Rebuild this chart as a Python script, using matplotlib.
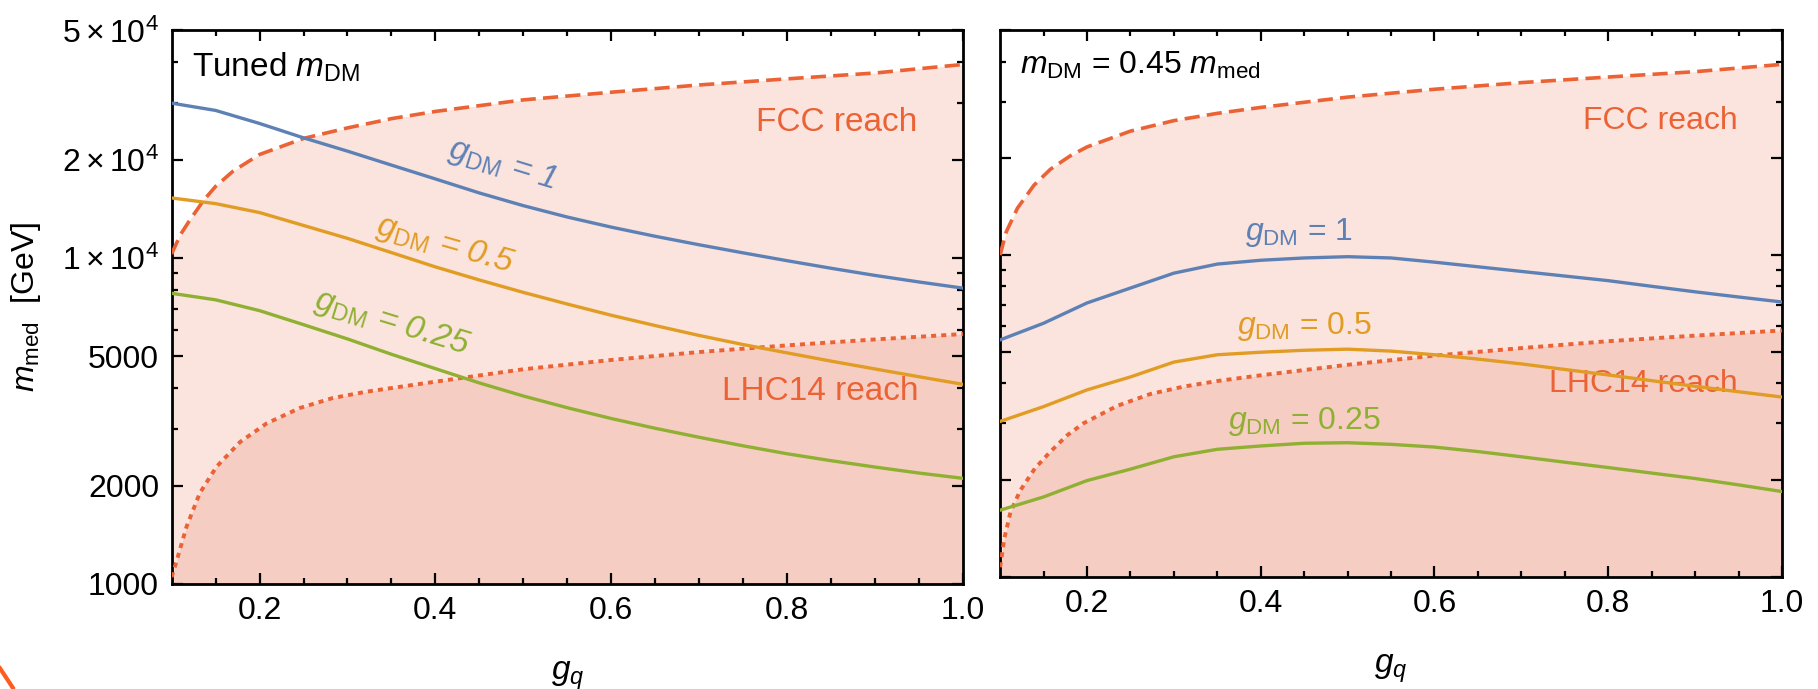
import matplotlib
matplotlib.use("Agg")
import matplotlib.pyplot as plt
from matplotlib.lines import Line2D
from matplotlib.ticker import FixedLocator, NullFormatter

plt.rcParams["font.family"] = ["Liberation Sans", "DejaVu Sans"]
plt.rcParams["mathtext.fontset"] = "custom"
plt.rcParams["mathtext.rm"] = "Liberation Sans"
plt.rcParams["mathtext.it"] = "Liberation Sans:italic"
plt.rcParams["mathtext.bf"] = "Liberation Sans:bold"

# ---- data ----
# left panel: tuned m_DM
g_left = [0.1, 0.15, 0.2, 0.25, 0.3, 0.35, 0.4, 0.45, 0.5, 0.55, 0.6, 0.65, 0.7,
          0.75, 0.8, 0.85, 0.9, 0.95, 1.0]
blue_left = [29900, 28400, 25900, 23400, 21300, 19300, 17500, 15850, 14490, 13370, 12450, 11670, 10990,
             10380, 9820, 9310, 8850, 8450, 8090]
orange_left = [15300, 14700, 13800, 12600, 11500, 10400, 9400, 8570, 7850, 7230, 6680, 6210, 5790,
               5430, 5120, 4830, 4570, 4325, 4100]
green_left = [7800, 7450, 6900, 6250, 5650, 5070, 4580, 4140, 3775, 3475, 3220, 3005, 2820,
              2655, 2510, 2390, 2285, 2190, 2110]

g_fcc_left = [0.1, 0.11, 0.12, 0.136, 0.15, 0.17, 0.2, 0.25, 0.3, 0.35, 0.4, 0.5, 0.6, 0.7, 0.8, 0.9, 1.0]
fcc_left = [10300, 11800, 13000, 15000, 16600, 18500, 20800, 23300, 25100, 26800, 28200, 30600,
            32300, 34000, 35500, 37000, 39300]
g_lhc_left = [0.1, 0.106, 0.117, 0.132, 0.151, 0.178, 0.208, 0.246, 0.283, 0.321, 0.382, 0.43,
              0.5, 0.6, 0.7, 0.8, 0.9, 1.0]
lhc_left = [1050, 1185, 1500, 1900, 2290, 2730, 3110, 3470, 3720, 3890, 4110, 4290,
            4560, 4870, 5150, 5400, 5630, 5850]

# right panel: m_DM = 0.45 m_med
g_right = [0.1, 0.15, 0.2, 0.25, 0.3, 0.35, 0.4, 0.45, 0.5, 0.55, 0.6, 0.65, 0.7,
           0.75, 0.8, 0.85, 0.9, 0.95, 1.0]
blue_right = [5450, 6140, 7100, 7900, 8790, 9380, 9640, 9800, 9890, 9800, 9510, 9200, 8900,
              8610, 8330, 8000, 7690, 7410, 7150]
orange_right = [3040, 3380, 3810, 4180, 4650, 4900, 4990, 5060, 5100, 5030, 4900, 4750, 4590,
                4410, 4240, 4070, 3910, 3760, 3620]
green_right = [1610, 1770, 1990, 2160, 2360, 2490, 2550, 2600, 2610, 2580, 2530, 2450, 2360,
               2270, 2185, 2100, 2020, 1930, 1840]

g_fcc_right = [0.1, 0.107, 0.12, 0.139, 0.158, 0.18, 0.2, 0.25, 0.3, 0.35, 0.4, 0.5, 0.6, 0.7, 0.8, 0.9, 1.0]
fcc_right = [10000, 11800, 14000, 16500, 18500, 20300, 21700, 24300, 26200, 27600, 28800, 31000,
             32800, 34400, 35800, 37200, 39200]
g_lhc_right = [0.1, 0.105, 0.112, 0.123, 0.14, 0.158, 0.177, 0.196, 0.235, 0.273, 0.311, 0.35, 0.4,
               0.5, 0.6, 0.7, 0.8, 0.9, 1.0]
lhc_right = [1070, 1320, 1590, 1850, 2170, 2450, 2750, 3000, 3400, 3700, 3900, 4060, 4230,
             4560, 4870, 5140, 5400, 5620, 5830]

ytick_vals = [1000, 2000, 5000, 10000, 20000, 50000]
ytick_labels = ["1000", "2000", "5000", r"$1\times10^{4}$", r"$2\times10^{4}$", r"$5\times10^{4}$"]
yminor_vals = [3000, 4000, 6000, 7000, 8000, 9000, 30000, 40000]
xtick_vals = [0.2, 0.4, 0.6, 0.8, 1.0]
xtick_labels = ["0.2", "0.4", "0.6", "0.8", "1.0"]
xminor_vals = [0.15, 0.25, 0.3, 0.35, 0.45, 0.5, 0.55, 0.65, 0.7, 0.75, 0.85, 0.9, 0.95]

BLUE = "#5e81b5"
ORANGE = "#e19c24"
GREEN = "#8fb032"
RED = "#eb6235"
FILL_FCC = "#fbe4dd"
FILL_LHC = "#f6cdc3"

fig = plt.figure(figsize=(18.18, 6.89), dpi=100)
ax1 = fig.add_axes([0.0944, 0.1524, 0.4353, 0.8035])
ax2 = fig.add_axes([0.5501, 0.1630, 0.4301, 0.7929])


def draw_panel(ax, g, blue, orange, green, g_fcc, fcc, g_lhc, lhc):
    ax.fill_between(g_fcc, 1000, fcc, color=FILL_FCC, lw=0, zorder=1)
    ax.fill_between(g_lhc, 1000, lhc, color=FILL_LHC, lw=0, zorder=1.1)
    ax.plot(g_fcc, fcc, color=RED, lw=2.6, ls=(0, (4.2, 2.0)), zorder=3)
    ax.plot(g_lhc, lhc, color=RED, lw=2.8, ls=(0, (1.3, 1.3)), zorder=3)
    ax.plot(g, blue, color=BLUE, lw=2.4, zorder=4)
    ax.plot(g, orange, color=ORANGE, lw=2.4, zorder=4)
    ax.plot(g, green, color=GREEN, lw=2.4, zorder=4)

    ax.set_yscale("log")
    ax.set_xlim(0.1, 1.0)
    ax.set_ylim(1000, 50000)
    ax.yaxis.set_major_locator(FixedLocator(ytick_vals))
    ax.yaxis.set_minor_locator(FixedLocator(yminor_vals))
    ax.yaxis.set_minor_formatter(NullFormatter())
    ax.xaxis.set_major_locator(FixedLocator(xtick_vals))
    ax.xaxis.set_minor_locator(FixedLocator(xminor_vals))
    ax.set_xticklabels(xtick_labels)
    ax.tick_params(which="both", direction="in", top=True, right=True, width=1.6,
                   labelsize=23, pad=9)
    ax.tick_params(which="major", length=8)
    ax.tick_params(which="minor", length=4.5)
    for s in ax.spines.values():
        s.set_linewidth(2.0)
    ax.set_xlabel(r"$g_q$", fontsize=24, labelpad=24)


draw_panel(ax1, g_left, blue_left, orange_left, green_left, g_fcc_left, fcc_left, g_lhc_left, lhc_left)
draw_panel(ax2, g_right, blue_right, orange_right, green_right, g_fcc_right, fcc_right, g_lhc_right, lhc_right)

ax1.set_yticklabels(ytick_labels)
ax2.set_yticklabels([])
ax1.set_ylabel(r"$m_{\mathrm{med}}$  [GeV]", fontsize=23, labelpad=14)

# left panel texts
ax1.text(0.026, 0.934, r"Tuned $m_{\mathrm{DM}}$", transform=ax1.transAxes, fontsize=24,
         ha="left", va="center", zorder=5)
ax1.text(0.948, 26100, "FCC reach", color=RED, fontsize=24, ha="right", va="center", zorder=2)
ax1.text(0.949, 3910, "LHC14 reach", color=RED, fontsize=24, ha="right", va="center", zorder=2)
ax1.text(0.476, 19300, r"$g_{\mathrm{DM}}$ = 1", color=BLUE, fontsize=24, style="italic",
         rotation=-17, rotation_mode="anchor", ha="center", va="center", zorder=5)
ax1.text(0.411, 10960, r"$g_{\mathrm{DM}}$ = 0.5", color=ORANGE, fontsize=24, style="italic",
         rotation=-16, rotation_mode="anchor", ha="center", va="center", zorder=5)
ax1.text(0.351, 6320, r"$g_{\mathrm{DM}}$ = 0.25", color=GREEN, fontsize=24, style="italic",
         rotation=-17, rotation_mode="anchor", ha="center", va="center", zorder=5)

# right panel texts
ax2.text(0.026, 0.935, r"$m_{\mathrm{DM}}$ = 0.45 $m_{\mathrm{med}}$", transform=ax2.transAxes,
         fontsize=23, ha="left", va="center", zorder=5)
ax2.text(0.949, 26100, "FCC reach", color=RED, fontsize=23, ha="right", va="center", zorder=2)
ax2.text(0.949, 3970, "LHC14 reach", color=RED, fontsize=23, ha="right", va="center", zorder=2)
ax2.text(0.444, 11800, r"$g_{\mathrm{DM}}$ = 1", color=BLUE, fontsize=23, ha="center", va="center", zorder=5)
ax2.text(0.45, 5990, r"$g_{\mathrm{DM}}$ = 0.5", color=ORANGE, fontsize=23, ha="center", va="center", zorder=5)
ax2.text(0.45, 3030, r"$g_{\mathrm{DM}}$ = 0.25", color=GREEN, fontsize=23, ha="center", va="center", zorder=5)

# small orange slide-frame remnant at the bottom-left corner
fig.add_artist(Line2D([0.0, 0.007], [0.030, 0.002], transform=fig.transFigure, color="#ff5a1f", lw=3))

fig.savefig("out.png", dpi=100)
